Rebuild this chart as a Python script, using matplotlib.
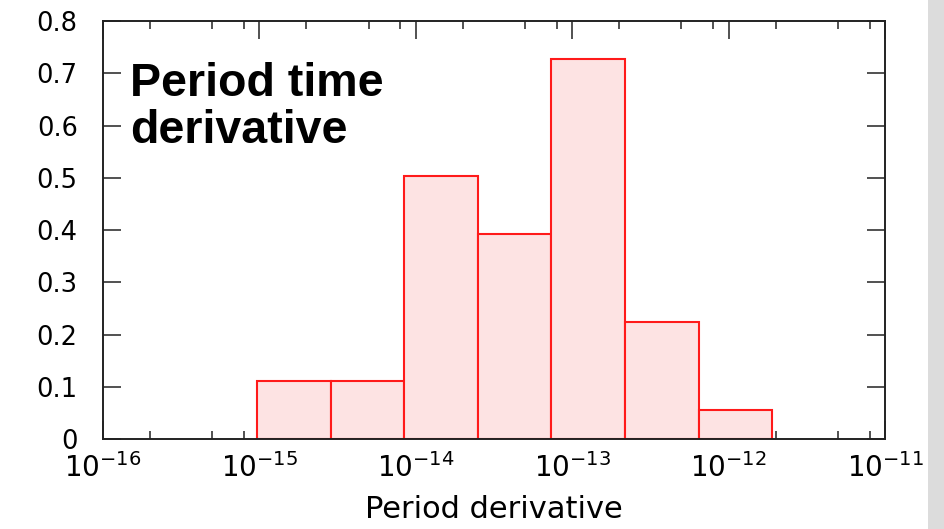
import numpy as np
import matplotlib
matplotlib.use("Agg")
import matplotlib.pyplot as plt
from matplotlib.ticker import LogLocator, FixedLocator, NullFormatter
from matplotlib.patches import Rectangle

# histogram of log10(period derivative): bin edges and counts per bin
log_edges = [-15.012, -14.542, -14.072, -13.602, -13.132, -12.662, -12.192, -11.722]
counts = [2, 2, 9, 7, 13, 4, 1]

y_ticks = [0, 0.1, 0.2, 0.3, 0.4, 0.5, 0.6, 0.7, 0.8]
y_labels = ["0", "0.1", "0.2", "0.3", "0.4", "0.5", "0.6", "0.7", "0.8"]
x_decades = [-16, -15, -14, -13, -12, -11]

log_edges = np.array(log_edges)
counts = np.array(counts)
# normalised so the area in log10 units is 1
heights = counts / (counts.sum() * np.diff(log_edges))

fig = plt.figure(figsize=(9.44, 5.29), dpi=100)
fig.patches.append(Rectangle((928 / 944, 0), 16 / 944, 1, transform=fig.transFigure,
                             facecolor="#dcdcdc", edgecolor="none"))
ax = fig.add_axes([0.1088, 0.1701, 0.8287, 0.7902])

left = 10.0 ** log_edges[:-1]
right = 10.0 ** log_edges[1:]
ax.bar(left, heights, width=right - left, align="edge",
       facecolor="#fde3e3", edgecolor="#ff1a1a", linewidth=1.5, zorder=2)

ax.set_xscale("log")
ax.set_xlim(10.0 ** x_decades[0], 10.0 ** x_decades[-1])
ax.set_ylim(0, 0.8)

ax.xaxis.set_major_locator(FixedLocator([10.0 ** d for d in x_decades]))
ax.set_xticklabels([r"$10^{%d}$" % d for d in x_decades])
ax.xaxis.set_minor_locator(LogLocator(base=10, subs=[2, 5, 8], numticks=20))
ax.xaxis.set_minor_formatter(NullFormatter())
ax.set_yticks(y_ticks)
ax.set_yticklabels(y_labels)

ax.tick_params(which="both", direction="in", top=True, right=True,
               width=1.1, color="#222222")
ax.tick_params(which="major", length=13)
ax.tick_params(which="minor", length=5.5)
ax.tick_params(axis="x", which="major", labelsize=20, pad=10)
ax.tick_params(axis="y", which="major", labelsize=18.5, pad=18)

for s in ax.spines.values():
    s.set_linewidth(1.4)
    s.set_color("#222222")

ax.set_xlabel("Period derivative", fontsize=22, labelpad=9)

ax.text(0.035, 0.903, "Period time\nderivative", transform=ax.transAxes,
        family="Liberation Sans", fontsize=33.5, fontweight="bold",
        va="top", ha="left", linespacing=1.1)

fig.savefig("out.png", dpi=100)
